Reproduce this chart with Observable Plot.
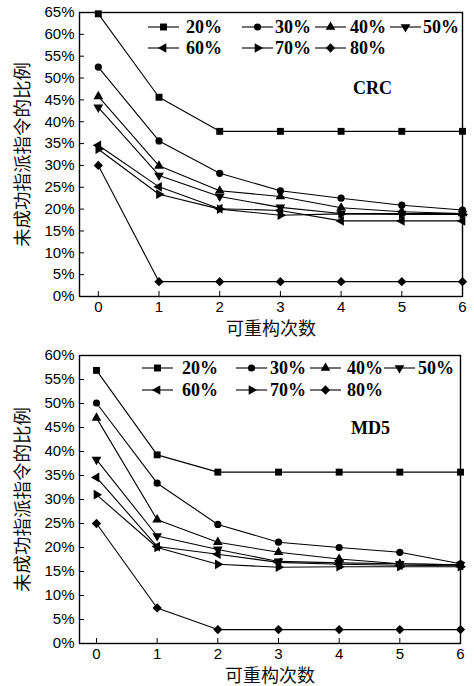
<!DOCTYPE html>
<html><head><meta charset="utf-8">
<script src="https://cdn.jsdelivr.net/npm/d3@7"></script>
<script src="https://cdn.jsdelivr.net/npm/@observablehq/plot@0.6"></script>
<style>
body{margin:0;background:#fff;width:474px;height:686px;overflow:hidden}
.panel{position:relative;width:474px;height:343px}
.panel svg.legend{position:absolute;left:0;top:0}
</style></head><body>
<div id="top" class="panel"></div>
<div id="bottom" class="panel"></div>
<script>
// ---- data ----
const reconfigCounts = [0, 1, 2, 3, 4, 5, 6];
const seriesLabels = ["20%", "30%", "40%", "50%", "60%", "70%", "80%"];

const crc20 = [64.7, 45.6, 37.8, 37.8, 37.8, 37.8, 37.8];
const crc30 = [52.5, 35.6, 28.2, 24.2, 22.5, 20.9, 19.8];
const crc40 = [45.8, 29.9, 24.2, 22.9, 20.3, 19.4, 19.0];
const crc50 = [43.3, 27.7, 22.9, 20.4, 19.0, 19.0, 19.0];
const crc60 = [34.6, 25.1, 20.1, 19.7, 17.3, 17.3, 17.3];
const crc70 = [33.7, 23.4, 20.0, 18.6, 18.9, 18.8, 18.8];
const crc80 = [30.0, 3.4, 3.4, 3.4, 3.4, 3.4, 3.4];

const md520 = [56.9, 39.3, 35.7, 35.7, 35.7, 35.7, 35.7];
const md530 = [50.1, 33.4, 24.8, 21.1, 20.0, 19.0, 16.6];
const md540 = [47.0, 25.8, 21.1, 19.0, 17.6, 16.6, 16.4];
const md550 = [38.3, 22.4, 19.6, 17.1, 16.8, 16.6, 16.4];
const md560 = [34.6, 20.2, 18.6, 16.9, 16.5, 16.3, 16.2];
const md570 = [31.0, 20.0, 16.5, 15.9, 16.0, 16.0, 16.0];
const md580 = [25.0, 7.4, 2.9, 2.9, 2.9, 2.9, 2.9];

const yTicksCRC = [0, 5, 10, 15, 20, 25, 30, 35, 40, 45, 50, 55, 60, 65];
const yTicksMD5 = [0, 5, 10, 15, 20, 25, 30, 35, 40, 45, 50, 55, 60];
const xTicks = [0, 1, 2, 3, 4, 5, 6];
const xTitle = "可重构次数";
const yTitle = "未成功指派指令的比例";

// ---- symbols ----
function triangleSym(theta) {
  return {draw(ctx, size) {
    const a = Math.sqrt(size / (3 * Math.sqrt(3)));
    const pts = [[0, -2 * a], [-Math.sqrt(3) * a, a], [Math.sqrt(3) * a, a]]
      .map(([x, y]) => [x * Math.cos(theta) - y * Math.sin(theta), x * Math.sin(theta) + y * Math.cos(theta)]);
    ctx.moveTo(pts[0][0], pts[0][1]);
    ctx.lineTo(pts[1][0], pts[1][1]);
    ctx.lineTo(pts[2][0], pts[2][1]);
    ctx.closePath();
  }};
}
const squareSym = {draw(ctx, size) { const h = Math.sqrt(size) / 2; ctx.rect(-h, -h, 2 * h, 2 * h); }};
const circleSym = {draw(ctx, size) { const r = Math.sqrt(size / Math.PI); ctx.moveTo(r, 0); ctx.arc(0, 0, r, 0, 2 * Math.PI); }};
const diamondSym = {draw(ctx, size) { const h = Math.sqrt(size / 2); ctx.moveTo(0, -h); ctx.lineTo(h, 0); ctx.lineTo(0, h); ctx.lineTo(-h, 0); ctx.closePath(); }};
const symbols = [squareSym, circleSym, triangleSym(0), triangleSym(Math.PI), triangleSym(-Math.PI / 2), triangleSym(Math.PI / 2), diamondSym];
const radii = [3.9, 3.6, 3.6, 3.6, 3.6, 3.6, 3.7];

const tickFont = "'Liberation Sans', Arial, sans-serif";
const cjkFont = "'Noto Sans CJK SC', sans-serif";
const serifFont = "'Liberation Serif', 'Times New Roman', serif";

function drawPanel(el, series, cfg) {
  const rows = [];
  seriesLabels.forEach((s, i) => series[i].forEach((v, j) => rows.push({series: s, k: reconfigCounts[j], v})));
  const marks = [
    Plot.axisY({ticks: cfg.yTicks, tickSize: -5, tickPadding: 10, tickFormat: d => d + "%", fontSize: 15, fontFamily: tickFont, label: null}),
    Plot.axisX({ticks: xTicks, tickSize: -5, tickPadding: 10, tickFormat: d => String(d), fontSize: 15, fontFamily: tickFont, label: null}),
    ...seriesLabels.map(s => Plot.line(rows.filter(r => r.series === s), {x: "k", y: "v", stroke: "#000", strokeWidth: 1.1})),
    ...seriesLabels.map((s, i) => Plot.dot(rows.filter(r => r.series === s), {x: "k", y: "v", symbol: symbols[i], r: radii[i], fill: "#000", stroke: "none"})),
    Plot.frame({stroke: "#000", strokeWidth: 1.4}),
    Plot.text([yTitle], {text: d => d, frameAnchor: "left", textAnchor: "middle", lineAnchor: "middle", rotate: -90, dx: -56, fontSize: 18.5, fontFamily: cjkFont, fill: "#111"}),
    Plot.text([xTitle], {text: d => d, frameAnchor: "bottom", textAnchor: "middle", lineAnchor: "middle", dy: 33, fontSize: 18, fontFamily: cjkFont, fill: "#111"}),
    Plot.text([cfg.name], {text: d => d, frameAnchor: "top-right", dx: -90, dy: cfg.nameDy, textAnchor: "middle", lineAnchor: "middle", fontSize: 18, fontWeight: "bold", fontFamily: serifFont, fill: "#000"})
  ];
  const chart = Plot.plot({
    width: 474, height: 343,
    marginLeft: 79, marginRight: cfg.marginRight, marginTop: 12, marginBottom: cfg.marginBottom,
    x: {domain: [cfg.xmin, 6]},
    y: {domain: [0, cfg.ymax]},
    style: {background: "#fff", color: "#000", overflow: "visible"},
    marks
  });
  el.appendChild(chart);

  // legend overlay inside the plot frame
  const svg = d3.select(el).append("svg").attr("class", "legend").attr("width", 474).attr("height", 80);
  seriesLabels.forEach((s, i) => {
    const row = i < 4 ? 0 : 1, col = i < 4 ? i : i - 4;
    const y = cfg.legendRows[row], x0 = cfg.legendLines[col];
    svg.append("line").attr("x1", x0).attr("x2", x0 + 31).attr("y1", y).attr("y2", y).attr("stroke", "#000").attr("stroke-width", 1.1);
    svg.append("path").attr("d", d3.symbol(symbols[i], Math.PI * radii[i] * radii[i])()).attr("transform", `translate(${x0 + 15.5},${y})`).attr("fill", "#000");
    svg.append("text").attr("x", cfg.legendText[col]).attr("y", y).attr("dy", "0.35em")
      .attr("font-family", serifFont).attr("font-weight", "bold").attr("font-size", 18).text(s);
  });
}

drawPanel(document.getElementById("top"), [crc20, crc30, crc40, crc50, crc60, crc70, crc80], {
  name: "CRC", nameDy: 76, yTicks: yTicksCRC, ymax: 65, xmin: -0.31, marginRight: 12, marginBottom: 47,
  legendRows: [27, 48], legendLines: [148, 242, 315, 390], legendText: [186, 275, 350, 423]
});
drawPanel(document.getElementById("bottom"), [md520, md530, md540, md550, md560, md570, md580], {
  name: "MD5", nameDy: 73, yTicks: yTicksMD5, ymax: 60, xmin: -0.28, marginRight: 14, marginBottom: 43,
  legendRows: [25, 47], legendLines: [142, 236, 310, 384], legendText: [182, 270, 347, 418]
});
</script>
</body></html>
